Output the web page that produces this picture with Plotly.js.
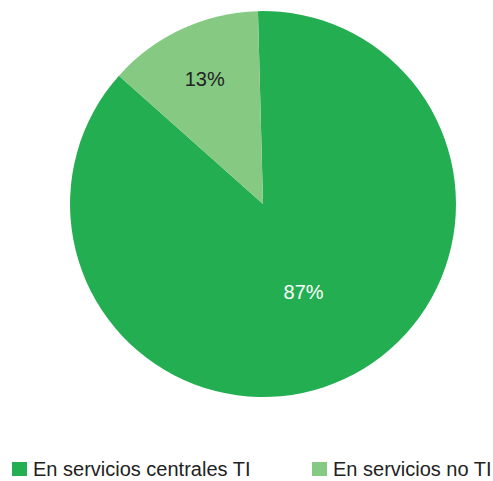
<!DOCTYPE html>
<html><head><meta charset="utf-8">
<script src="https://cdn.plot.ly/plotly-3.0.1.min.js"></script>
<style>body{margin:0;background:#fff}</style>
</head><body><div id="chart" style="width:493px;height:481px"></div>
<script>
var labels = ["En servicios centrales TI", "En servicios no TI"];
var values = [87, 13];
var colors = ["#23AE52", "#86C983"];
var textColors = ["#ffffff", "#222222"];

var W = 493, H = 481;
var legendX = [12, 312];   // px left of each legend swatch
var font = {family: "Liberation Sans, Arial, sans-serif", size: 20, color: "#222222"};

var shapes = [], annotations = [];
labels.forEach(function (lab, i) {
  shapes.push({
    type: "rect", xref: "paper", yref: "paper",
    x0: legendX[i] / W, x1: (legendX[i] + 15) / W,
    y0: 1 - 476 / H, y1: 1 - 462 / H,
    fillcolor: colors[i], line: {width: 0}
  });
  annotations.push({
    xref: "paper", yref: "paper", x: (legendX[i] + 19) / W, y: 1 - 469 / H,
    xanchor: "left", yanchor: "middle", showarrow: false,
    text: lab, font: font
  });
});

Plotly.newPlot("chart", [{
  type: "pie",
  labels: labels,
  values: values,
  sort: false,
  direction: "clockwise",
  rotation: -1.5,
  marker: {colors: colors, line: {width: 0}},
  texttemplate: "%{value}%",
  textposition: "inside",
  insidetextorientation: "horizontal",
  textfont: {family: font.family, size: 20, color: textColors},
  hoverinfo: "none",
  domain: {x: [0.142, 0.925], y: [0.1746, 0.977]}
}], {
  width: W, height: H,
  margin: {l: 0, r: 0, t: 0, b: 0},
  paper_bgcolor: "#ffffff",
  showlegend: false,
  shapes: shapes,
  annotations: annotations
}, {staticPlot: true});
</script></body></html>
